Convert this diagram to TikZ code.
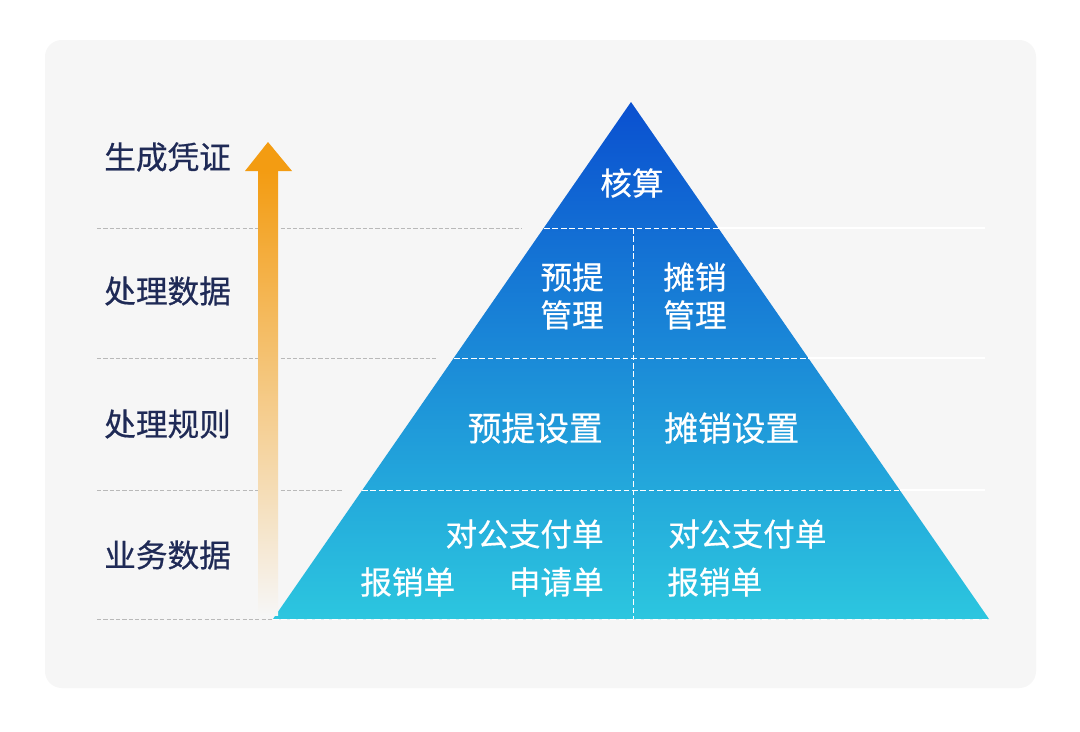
\documentclass[tikz,border=0pt]{standalone}
\usepackage{fontspec}
\setmainfont{Noto Sans CJK SC}[FakeBold=0.5]
\usepackage{xcolor}
\usetikzlibrary{positioning}

\definecolor{panel}{HTML}{F6F6F6}
\definecolor{navy}{HTML}{1F2A56}
\definecolor{pyrtop}{HTML}{0A50D0}
\definecolor{pyrmid}{HTML}{1F8AD6}
\definecolor{pyrbot}{HTML}{2CC6DF}
\definecolor{arrowc}{HTML}{F39C12}

\begin{document}
\begin{tikzpicture}[
    x=0.025cm, y=-0.025cm,
    level/.style={font=\fontsize{22.5}{27}\selectfont, text=navy, inner sep=0pt, anchor=west},
    cell/.style={font=\fontsize{22.5}{27}\selectfont, text=white, inner sep=0pt},
    wide/.style={font=\fontsize{24}{27}\selectfont},
    guide/.style={gray!55, dash pattern=on 3pt off 1.5pt, line width=0.5pt},
    split/.style={white, dash pattern=on 4pt off 2pt, line width=0.7pt},
    faint/.style={white, line width=0.8pt}
]

% page and panel
\fill[white] (0,0) rectangle (1080,731);
\fill[panel, rounded corners=12] (45,40) rectangle (1036,688);

% pyramid
\coordinate (apex) at (631,102);
\coordinate (baseL) at (273,619);
\coordinate (baseR) at (989,619);
\shade[top color=pyrtop, middle color=pyrmid, bottom color=pyrbot] (apex) -- (baseR) -- (baseL) -- cycle;

% level lines
\draw[guide] (97,228) -- (522,228);
\draw[guide] (97,358) -- (436,358);
\draw[guide] (97,490) -- (343,490);
\draw[guide] (97,619) -- (baseL);
\draw[split] (544,228) -- (718,228);
\draw[split] (454,358) -- (808,358);
\draw[split] (362,490) -- (900,490);
\draw[split] (baseL) -- (baseR);
\draw[split] (633,228) -- (633,619);
\draw[faint] (718,228) -- (985,228);
\draw[faint] (808,358) -- (985,358);
\draw[faint] (900,490) -- (985,490);

% arrow
\coordinate (arrtail) at (268,615);
\coordinate (arrtip) at (268,142);
\shade[top color=arrowc, bottom color=panel] (258,171) rectangle (278,615);
\fill[arrowc] (245,171) -- (arrtip) -- (292,171) -- cycle;

% level labels
\node[level] (voucher) at (104,157) {生成凭证};
\node[level] (procdata) at (104,291) {处理数据};
\node[level] (procrule) at (104,424) {处理规则};
\node[level] (bizdata) at (104,555) {业务数据};

% pyramid cells
\node[cell] (hesuan) at (632,183) {核算};
\node[cell, anchor=east, align=right] (ytgl) at (604,296) {预提\\管理};
\node[cell, anchor=west, align=left] (txgl) at (663,296) {摊销\\管理};
\node[cell, wide, anchor=east] (ytsz) at (603,428) {预提设置};
\node[cell, wide, anchor=west] (txsz) at (664,428) {摊销设置};
\node[cell, anchor=east] (dgzf1) at (604,534) {对公支付单};
\node[cell, anchor=west] (dgzf2) at (668,534) {对公支付单};
\node[cell, anchor=west] (bxd1) at (360,582) {报销单};
\node[cell, anchor=east] (sqd) at (604,582) {申请单};
\node[cell, anchor=west] (bxd2) at (667,582) {报销单};

\end{tikzpicture}
\end{document}
